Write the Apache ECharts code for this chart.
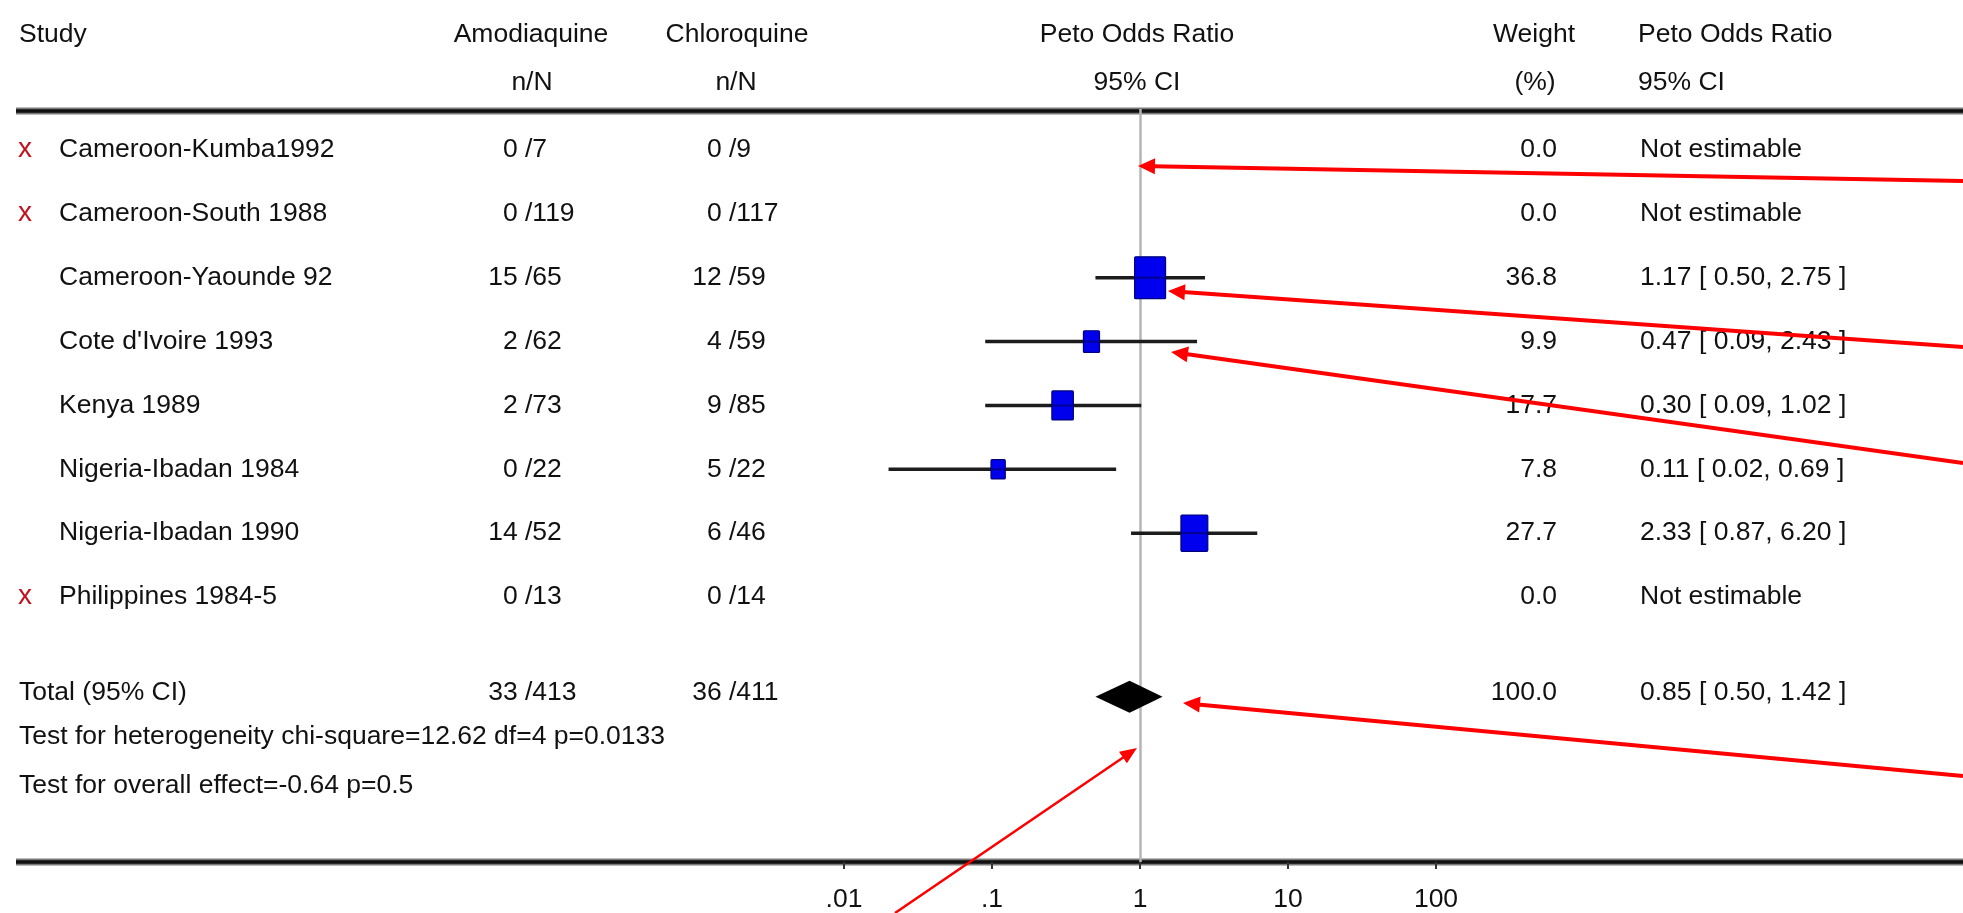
<!DOCTYPE html>
<html><head><meta charset="utf-8">
<script src="https://cdn.jsdelivr.net/npm/echarts@6/dist/echarts.min.js"></script>
<style>html,body{margin:0;padding:0;background:#fff;}#c{width:1963px;height:913px;}</style>
</head><body><div id="c"></div>
<script>
// ---------- DATA ----------
const studies = ['Cameroon-Kumba1992', 'Cameroon-South 1988', 'Cameroon-Yaounde 92', "Cote d'Ivoire 1993", 'Kenya 1989', 'Nigeria-Ibadan 1984', 'Nigeria-Ibadan 1990', 'Philippines 1984-5'];
const amodEvents = [0, 0, 15, 2, 2, 0, 14, 0];
const amodTotals = [7, 119, 65, 62, 73, 22, 52, 13];
const chloEvents = [0, 0, 12, 4, 9, 5, 6, 0];
const chloTotals = [9, 117, 59, 59, 85, 22, 46, 14];
const oddsRatio = [null, null, 1.17, 0.47, 0.30, 0.11, 2.33, null];
const ciLow = [null, null, 0.50, 0.09, 0.09, 0.02, 0.87, null];
const ciHigh = [null, null, 2.75, 2.43, 1.02, 0.69, 6.20, null];
const weights = [0.0, 0.0, 36.8, 9.9, 17.7, 7.8, 27.7, 0.0];
const totalLabel = 'Total (95% CI)';
const totalAmod = [33, 413];
const totalChlo = [36, 411];
const totalWeight = 100.0;
const totalOR = [0.85, 0.50, 1.42];
const footnotes = ['Test for heterogeneity chi-square=12.62 df=4 p=0.0133', 'Test for overall effect=-0.64 p=0.5'];
const headerTop = ['Study', 'Amodiaquine', 'Chloroquine', 'Peto Odds Ratio', 'Weight', 'Peto Odds Ratio'];
const headerBottom = ['n/N', 'n/N', '95% CI', '(%)', '95% CI'];
const xTicks = [0.01, 0.1, 1, 10, 100];
const xTickLabels = ['.01', '.1', '1', '10', '100'];
const notEstimableText = 'Not estimable';

// ---------- LAYOUT ----------
const FONT = '26.5px "Liberation Sans", Arial, sans-serif';
const TXT = '#111111';
const TOTAL_ROW = 8.5, FOOT_ROWS = [9.18, 9.95];
const COL = {mark: 25, name: 59, total: 19, amodSlash: 525, chloSlash: 729, weightRight: 1557, orLeft: 1640};

const fmtOR = (o, l, h) => o.toFixed(2) + ' [ ' + l.toFixed(2) + ', ' + h.toFixed(2) + ' ]';

function txt(text, x, y, align, extra) {
  return Object.assign({type: 'text', style: {text: text, x: x, y: y, fill: TXT, font: FONT, align: align || 'left', verticalAlign: 'middle'}}, extra || {});
}

// table rows: [dummy x, row position, kind] kind: 0 study, 1 total, 2/3 footnotes
const tableData = studies.map((s, i) => [1, i, 0]);
tableData.push([1, TOTAL_ROW, 1]);
tableData.push([1, FOOT_ROWS[0], 2]);
tableData.push([1, FOOT_ROWS[1], 3]);

function renderTable(params, api) {
  const row = api.value(1);
  const kind = api.value(2);
  const y = api.coord([1, row])[1];
  const els = [];
  if (kind === 2 || kind === 3) {
    els.push(txt(footnotes[kind - 2], COL.total, y, 'left'));
    return {type: 'group', children: els};
  }
  let ae, at, ce, ct, w, orText;
  if (kind === 1) {
    ae = totalAmod[0]; at = totalAmod[1]; ce = totalChlo[0]; ct = totalChlo[1];
    w = totalWeight; orText = fmtOR(totalOR[0], totalOR[1], totalOR[2]);
    els.push(txt(totalLabel, COL.total, y, 'left'));
  } else {
    const i = params.dataIndex;
    ae = amodEvents[i]; at = amodTotals[i]; ce = chloEvents[i]; ct = chloTotals[i]; w = weights[i];
    orText = oddsRatio[i] == null ? notEstimableText : fmtOR(oddsRatio[i], ciLow[i], ciHigh[i]);
    if (oddsRatio[i] == null) {
      els.push({type: 'text', style: {text: 'x', x: COL.mark, y: y - 1, fill: '#c4101c', font: '28px "Liberation Sans", Arial, sans-serif', align: 'center', verticalAlign: 'middle'}});
    }
    els.push(txt(studies[i], COL.name, y, 'left'));
  }
  els.push(txt(ae + ' ', COL.amodSlash, y, 'right'));
  els.push(txt('/' + at, COL.amodSlash, y, 'left'));
  els.push(txt(ce + ' ', COL.chloSlash, y, 'right'));
  els.push(txt('/' + ct, COL.chloSlash, y, 'left'));
  els.push(txt(w.toFixed(1), COL.weightRight, y, 'right'));
  els.push(txt(orText, COL.orLeft, y, 'left'));
  return {type: 'group', children: els};
}

// CI lines & boxes
const ciData = [], boxData = [];
oddsRatio.forEach((o, i) => {
  if (o != null) {
    ciData.push([ciLow[i], ciHigh[i], i]);
    boxData.push([o, i, weights[i]]);
  }
});
const diamondData = [[totalOR[0], totalOR[1], totalOR[2], TOTAL_ROW]];

function arrow(x1, y1, x2, y2, lw, hl, hw) {
  const dx = x2 - x1, dy = y2 - y1, L = Math.hypot(dx, dy);
  const ux = dx / L, uy = dy / L, bx = x2 - ux * hl, by = y2 - uy * hl, px = -uy, py = ux;
  return [
    {type: 'line', z: 100, shape: {x1: x1, y1: y1, x2: bx + ux * 2, y2: by + uy * 2}, style: {stroke: '#ff0000', lineWidth: lw}},
    {type: 'polygon', z: 100, shape: {points: [[x2, y2], [bx + px * hw, by + py * hw], [bx - px * hw, by - py * hw]]}, style: {fill: '#ff0000'}}
  ];
}

const graphics = [];
// header texts
graphics.push(txt(headerTop[0], 19, 35, 'left'));
graphics.push(txt(headerTop[1], 531, 35, 'center'));
graphics.push(txt(headerBottom[0], 532, 83, 'center'));
graphics.push(txt(headerTop[2], 737, 35, 'center'));
graphics.push(txt(headerBottom[1], 736, 83, 'center'));
graphics.push(txt(headerTop[3], 1137, 35, 'center'));
graphics.push(txt(headerBottom[2], 1137, 83, 'center'));
graphics.push(txt(headerTop[4], 1534, 35, 'center'));
graphics.push(txt(headerBottom[3], 1535, 83, 'center'));
graphics.push(txt(headerTop[5], 1638, 35, 'left'));
graphics.push(txt(headerBottom[4], 1638, 83, 'left'));
// rule lines
[111, 862].forEach(yy => {
  graphics.push({type: 'line', shape: {x1: 16, y1: yy, x2: 1963, y2: yy}, style: {stroke: '#7a7a7a', lineWidth: 7}});
  graphics.push({type: 'line', shape: {x1: 16, y1: yy, x2: 1963, y2: yy}, style: {stroke: '#111', lineWidth: 3.5}});
});
// annotation arrows
graphics.push(...arrow(1963, 181, 1138, 166, 4, 17, 8));
graphics.push(...arrow(1963, 347, 1168, 291, 4, 17, 8));
graphics.push(...arrow(1963, 463, 1171, 352, 4, 17, 8));
graphics.push(...arrow(1963, 776, 1183, 703, 4, 17, 8));
graphics.push(...arrow(895, 913, 1137, 748, 2.5, 17, 7));

const chart = echarts.init(document.getElementById('c'), null, {renderer: 'canvas'});
chart.setOption({
  animation: false,
  backgroundColor: '#ffffff',
  grid: {left: 844, right: 527, top: 109, bottom: 51, containLabel: false},
  xAxis: {
    type: 'log', logBase: 10, min: xTicks[0], max: xTicks[xTicks.length - 1],
    position: 'bottom',
    axisLine: {show: false, onZero: false},
    axisTick: {show: true, length: 7, lineStyle: {color: '#333', width: 2}},
    splitLine: {show: false},
    minorTick: {show: false},
    axisLabel: {
      margin: 24, color: TXT, fontFamily: '"Liberation Sans", Arial, sans-serif', fontSize: 26.5,
      formatter: v => xTickLabels[Math.round(Math.log10(v)) + 2]
    }
  },
  yAxis: {type: 'value', inverse: true, min: -0.642, max: 11.149, show: false},
  graphic: graphics,
  series: [
    {
      type: 'custom', name: 'refline', coordinateSystem: 'cartesian2d', z: 1,
      data: [],
      renderItem: () => null,
      markLine: {
        silent: true, symbol: 'none', label: {show: false}, z: 1,
        lineStyle: {color: '#b5b5b5', width: 2.5, type: 'solid'},
        data: [{xAxis: 1}]
      }
    },
    {
      type: 'custom', name: 'ci', coordinateSystem: 'cartesian2d', clip: false, z: 10,
      encode: {x: [0, 1], y: 2},
      data: ciData,
      renderItem: (params, api) => {
        const a = api.coord([api.value(0), api.value(2)]);
        const b = api.coord([api.value(1), api.value(2)]);
        return {type: 'line', shape: {x1: a[0], y1: a[1], x2: b[0], y2: b[1]}, style: {stroke: '#1c1c1c', lineWidth: 3.5}};
      }
    },
    {
      type: 'custom', name: 'boxes', coordinateSystem: 'cartesian2d', clip: false, z: 20,
      encode: {x: 0, y: 1},
      data: boxData,
      renderItem: (params, api) => {
        const p = api.coord([api.value(0), api.value(1)]);
        const s = Math.sqrt(api.value(2));
        const w = 5.1 * s, h = 6.9 * s;
        return {type: 'group', children: [
          {type: 'rect', shape: {x: p[0] - w / 2, y: p[1] - h / 2, width: w, height: h, r: 1}, style: {fill: '#0000ee', stroke: '#00007a', lineWidth: 1.2}},
          {type: 'line', shape: {x1: p[0] - w / 2, y1: p[1], x2: p[0] + w / 2, y2: p[1]}, style: {stroke: 'rgba(0,0,70,0.55)', lineWidth: 2}}
        ]};
      }
    },
    {
      type: 'custom', name: 'total', coordinateSystem: 'cartesian2d', clip: false, z: 20,
      encode: {x: [0, 1, 2], y: 3},
      data: diamondData,
      renderItem: (params, api) => {
        const c = api.coord([api.value(0), api.value(3)]);
        const l = api.coord([api.value(1), api.value(3)]);
        const r = api.coord([api.value(2), api.value(3)]);
        const hh = 16;
        return {type: 'polygon', shape: {points: [[l[0], c[1] + 4], [c[0], c[1] + 4 - hh], [r[0], c[1] + 4], [c[0], c[1] + 4 + hh]]}, style: {fill: '#000'}};
      }
    },
    {
      type: 'custom', name: 'table', coordinateSystem: 'cartesian2d', clip: false, z: 30,
      encode: {x: 0, y: 1},
      data: tableData,
      renderItem: renderTable
    }
  ]
});
</script>
</body></html>
